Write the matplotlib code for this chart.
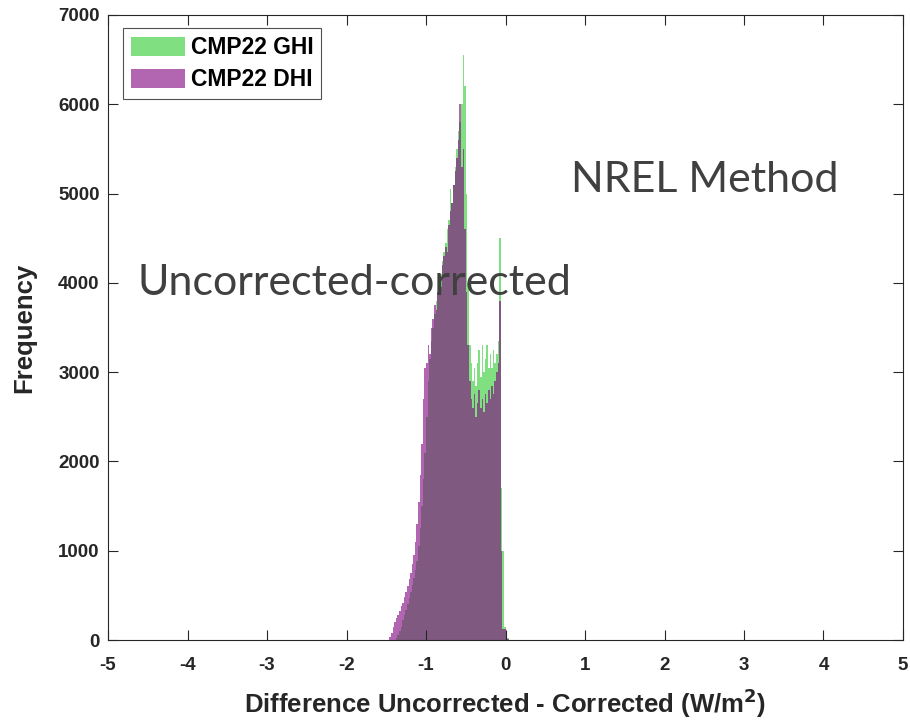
import matplotlib
matplotlib.use('Agg')
import matplotlib.pyplot as plt
import numpy as np
from matplotlib.patches import Patch

# bin edges of the histogram (W/m2), width 0.02
bin_lo = -1.46
bin_w = 0.02

# counts per bin, CMP22 GHI
ghi_counts = [0, 0, 0, 0, 20, 60, 100, 150, 220, 280,
              340, 400, 470, 540, 620, 700, 780, 880, 1050, 1250,
              1500, 1800, 2100, 2500, 2900, 3150, 3350, 3500, 3650, 3800,
              3900, 4000, 4100, 4250, 4350, 4450, 4600, 4700, 5050, 4900,
              5100, 5300, 5500, 5700, 5800, 6000, 6550, 6200, 5000, 4000,
              3300, 3100, 2900, 3050, 2850, 3100, 3250, 2950, 3300, 3000,
              3150, 3300, 3050, 3200, 3050, 3250, 3100, 3200, 3350, 4500,
              1700, 1000, 150, 100, 20, 0]

# counts per bin, CMP22 DHI
dhi_counts = [30, 80, 150, 200, 250, 280, 330, 380, 420, 480,
              540, 600, 680, 750, 850, 950, 1100, 1300, 1550, 1850,
              2200, 2700, 3050, 3100, 3300, 3200, 3500, 3600, 3750, 3700,
              3900, 4000, 3950, 4200, 4300, 4400, 4350, 4650, 4800, 4900,
              5100, 5250, 5400, 5600, 6000, 5300, 5500, 4600, 3900, 3300,
              2900, 2700, 2600, 2750, 2500, 2650, 2800, 2600, 2700, 2550,
              2750, 2650, 2800, 2700, 2850, 2750, 2900, 3000, 3100, 3800,
              1000, 120, 120, 80, 10, 0]

labels = ['CMP22 GHI', 'CMP22 DHI']
x_ticks = [-5, -4, -3, -2, -1, 0, 1, 2, 3, 4, 5]
y_ticks = [0, 1000, 2000, 3000, 4000, 5000, 6000, 7000]

edges = bin_lo + bin_w * np.arange(len(ghi_counts) + 1)

green = '#2BCB2B'
purple = '#800080'
ink = '#262626'

fig = plt.figure(figsize=(9.1, 7.21), dpi=100)
ax = fig.add_axes([0.1187, 0.1123, 0.8736, 0.8669])

ax.stairs(ghi_counts, edges, fill=True, color=green, alpha=0.6, linewidth=0)
ax.stairs(dhi_counts, edges, fill=True, color=purple, alpha=0.6, linewidth=0)

ax.set_xlim(-5, 5)
ax.set_ylim(0, 7000)
ax.set_xticks(x_ticks)
ax.set_yticks(y_ticks)

tick_font = dict(family='Liberation Sans', weight='bold', size=13.5)
ax.set_xticklabels([str(t) for t in x_ticks], **tick_font)
ax.set_yticklabels([str(t) for t in y_ticks], **tick_font)
ax.tick_params(direction='in', length=7, width=0.8, top=True, right=True,
               color=ink, labelcolor=ink)
ax.tick_params(axis='x', pad=12)
ax.tick_params(axis='y', pad=6)
for s in ax.spines.values():
    s.set_color(ink)
    s.set_linewidth(0.8)

ax.set_xlabel('Difference Uncorrected - Corrected (W/m$^{\\mathbf{2}}$)',
              family='Liberation Sans', weight='bold', size=18.5, labelpad=9,
              color=ink)
ax.set_ylabel('Frequency', family='Liberation Sans', weight='bold',
              size=18.5, labelpad=16, color=ink)

handles = [Patch(facecolor=green, alpha=0.6, edgecolor='none'),
           Patch(facecolor=purple, alpha=0.6, edgecolor='none')]
leg = ax.legend(handles, labels, loc='upper left', bbox_to_anchor=(0.019, 0.979),
                prop=dict(family='Liberation Sans', weight='bold', size=16.5),
                frameon=True, fancybox=False, edgecolor=ink,
                handlelength=2.35, handleheight=0.9, borderpad=0.35,
                labelspacing=0.4, handletextpad=0.25, borderaxespad=0)
leg.get_frame().set_linewidth(0.8)

fig.text(0.627, 0.75, 'NREL Method', family='Lato', size=31,
         color='#404040', ha='left', va='center')
fig.text(0.151, 0.607, 'Uncorrected-corrected', family='Lato', size=31,
         color='#404040', ha='left', va='center')

fig.savefig('out.png', dpi=100)
